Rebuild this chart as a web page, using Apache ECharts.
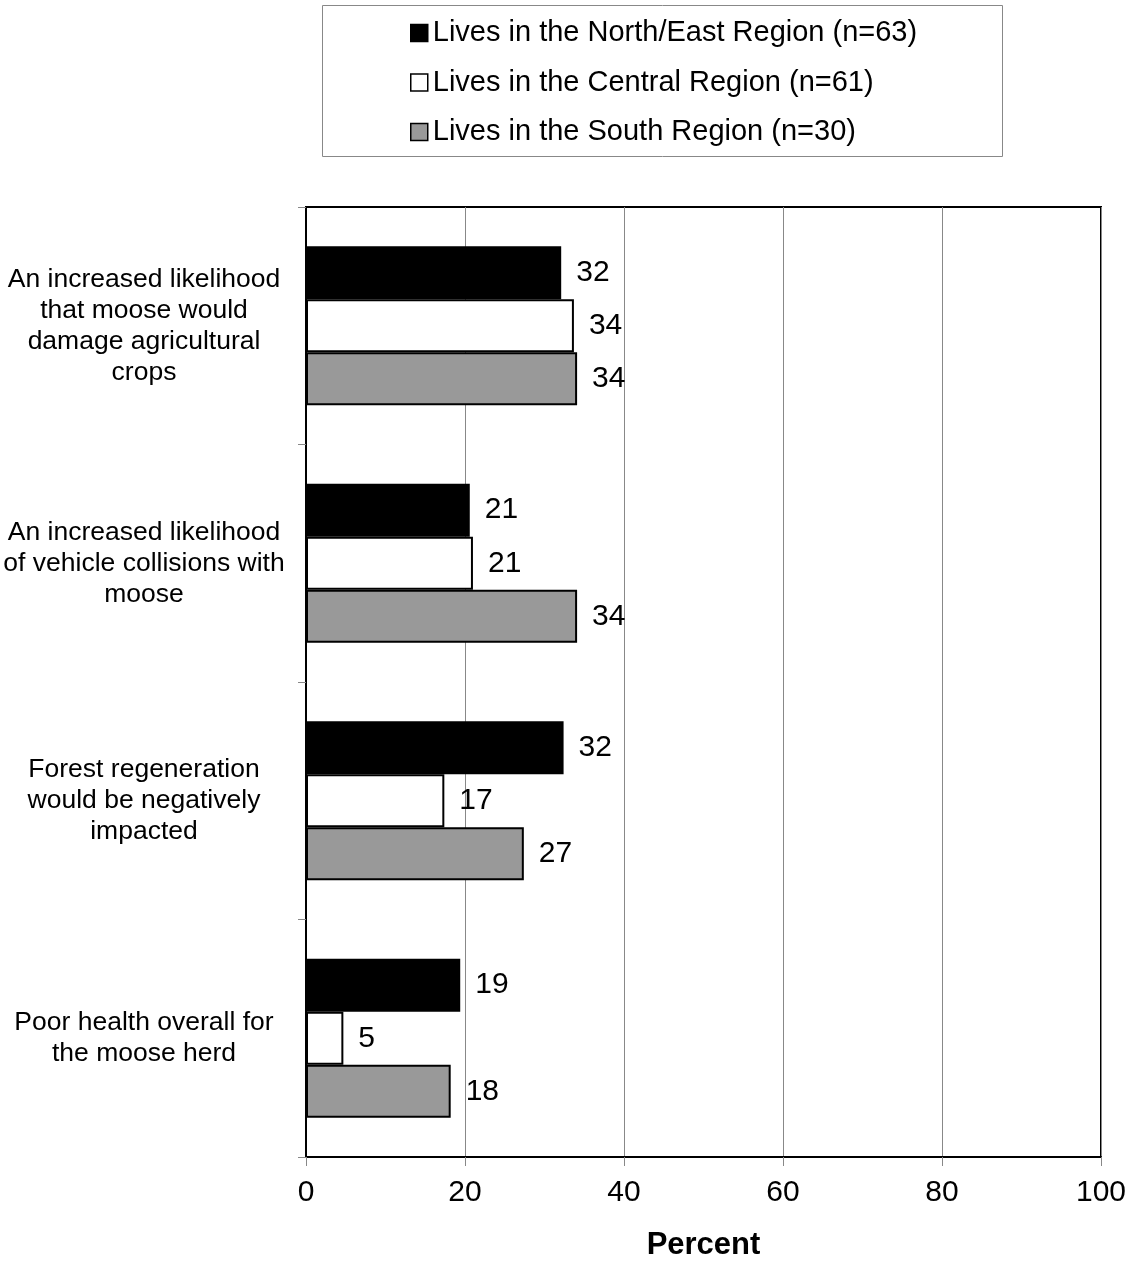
<!DOCTYPE html>
<html>
<head>
<meta charset="utf-8">
<script src="https://cdn.jsdelivr.net/npm/echarts@6/dist/echarts.min.js"></script>
<style>html,body{margin:0;padding:0;background:#fff;}#c{width:1131px;height:1266px;}</style>
</head>
<body>
<div id="c"></div>
<script>
const categories = [
  "An increased likelihood\nthat moose would\ndamage agricultural\ncrops",
  "An increased likelihood\nof vehicle collisions with\nmoose",
  "Forest regeneration\nwould be negatively\nimpacted",
  "Poor health overall for\nthe moose herd"
];
const seriesNames = [
  "Lives in the North/East Region (n=63)",
  "Lives in the Central Region (n=61)",
  "Lives in the South Region (n=30)"
];
const northEast = [32.1, 20.6, 32.4, 19.4];
const central = [33.7, 21.0, 17.4, 4.7];
const south = [34.1, 34.1, 27.4, 18.2];
const xTicks = [0, 20, 40, 60, 80, 100];

const colors = ["#000000", "#ffffff", "#999999"];
const FONT = "Liberation Sans, Arial, sans-serif";

function mk(name, data, color) {
  return {
    name: name,
    type: "bar",
    data: data,
    barGap: "0%",
    barCategoryGap: "33%",
    itemStyle: { color: color, borderColor: "#000", borderWidth: 2 },
    label: {
      show: true, position: "right", distance: 15,
      fontFamily: FONT, fontSize: 30, color: "#000",
      formatter: p => Math.round(p.value)
    }
  };
}

const chart = echarts.init(document.getElementById("c"), null, { renderer: "canvas" });
chart.setOption({
  animation: false,
  backgroundColor: "#fff",
  graphic: [{
    type: "rect", left: 320, top: 3,
    shape: { width: 680, height: 151 },
    style: { fill: "none", stroke: "#888", lineWidth: 1 }, z: 0
  }],
  legend: {
    orient: "vertical", left: 405, top: 13, padding: 5,
    itemWidth: 17, itemHeight: 17, itemGap: 19.5,
    textStyle: { fontFamily: FONT, fontSize: 29, color: "#000", lineHeight: 30 },
    itemStyle: { borderColor: "#000", borderWidth: 1.5 },
    data: seriesNames.map(n => ({ name: n, icon: "rect" }))
  },
  grid: {
    left: 306, right: 30, top: 207, bottom: 106, containLabel: false,
    show: true, borderColor: "#000", borderWidth: 2, backgroundColor: "transparent"
  },
  xAxis: {
    type: "value", min: xTicks[0], max: xTicks[xTicks.length - 1], interval: 20,
    name: "Percent", nameLocation: "middle", nameGap: 73,
    nameTextStyle: { fontFamily: FONT, fontSize: 31, fontWeight: "bold", color: "#000" },
    axisLine: { show: true, lineStyle: { color: "#000", width: 2 } },
    axisTick: { show: true, length: 9, lineStyle: { color: "#888" } },
    axisLabel: { fontFamily: FONT, fontSize: 30, color: "#000", margin: 21 },
    splitLine: { show: true, lineStyle: { color: "#888", width: 1 } }
  },
  yAxis: {
    type: "category", data: categories, inverse: true,
    axisLine: { show: true, lineStyle: { color: "#000", width: 2 } },
    axisTick: { show: true, length: 8, lineStyle: { color: "#888" } },
    axisLabel: {
      fontFamily: FONT, fontSize: 26.5, color: "#000", lineHeight: 31,
      align: "center", margin: 162
    },
    splitLine: { show: false }
  },
  series: [
    mk(seriesNames[0], northEast, colors[0]),
    mk(seriesNames[1], central, colors[1]),
    mk(seriesNames[2], south, colors[2])
  ]
});
</script>
</body>
</html>
